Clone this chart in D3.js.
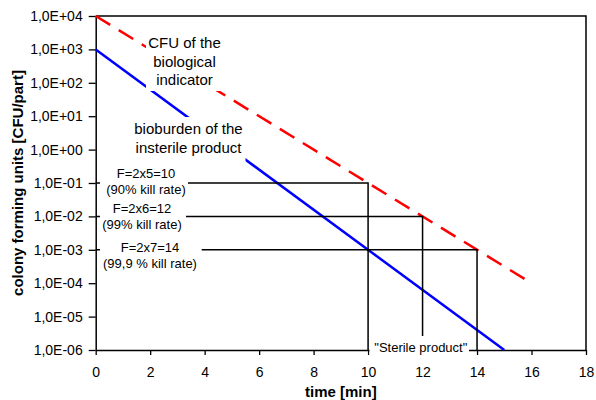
<!DOCTYPE html>
<html lang="en">
<head>
  <meta charset="UTF-8">
  <title>Kill curve</title>
  <style>
    html, body { margin: 0; background: #fff; }
    svg { display: block; font-family: 'Liberation Sans', Arial, sans-serif; }
  </style>
  <script src="https://cdn.jsdelivr.net/npm/d3@7"></script>
</head>
<body>
  <script>
    // canvas
    const width = 596
    const height = 400
    const margin = { left: 95.7, right: 10, top: 16, bottom: 50 }

    // data
    const xTicks = [0, 2, 4, 6, 8, 10, 12, 14, 16, 18]
    const yExps = [-6, -5, -4, -3, -2, -1, 0, 1, 2, 3, 4]
    const indicatorTime = [0, 16]
    const indicatorCFU = [1e4, 1e-4]
    const productTime = [0, 15]
    const productCFU = [1e3, 1e-6]
    const killTimes = [10, 12, 14]
    const killLevels = [1e-1, 1e-2, 1e-3]
    const killLabels = [
      ['F=2x5=10', '(90% kill rate)'],
      ['F=2x6=12', '(99% kill rate)'],
      ['F=2x7=14', '(99,9 % kill rate)']
    ]

    const svg = d3.select('body').append('svg')
      .attr('width', width)
      .attr('height', height)

    const x = d3.scaleLinear()
      .domain([0, 18])
      .range([margin.left, width - margin.right])
    const y = d3.scaleLog()
      .domain([1e-6, 1e4])
      .range([height - margin.bottom, margin.top])

    const fmt = v => {
      const e = Math.round(Math.log10(v))
      return '1,0E' + (e < 0 ? '-' : '+') + String(Math.abs(e)).padStart(2, '0')
    }

    // frame (top + right)
    svg.append('path')
      .attr('d', `M${x(0)},${y(1e4)}H${x(18)}V${y(1e-6)}`)
      .attr('fill', 'none')
      .attr('stroke', '#000')
      .attr('stroke-width', 1.5)

    // axes
    const gx = svg.append('g')
      .attr('transform', `translate(0, ${y(1e-6)})`)
      .call(d3.axisBottom(x).tickValues(xTicks).tickSizeInner(5).tickSizeOuter(0).tickPadding(12))
    const gy = svg.append('g')
      .attr('transform', `translate(${x(0)}, 0)`)
      .call(d3.axisLeft(y).tickValues(yExps.map(e => Math.pow(10, e))).tickFormat(fmt)
        .tickSizeInner(7).tickSizeOuter(0).tickPadding(6))
    ;[gx, gy].forEach(g => {
      g.select('.domain').attr('stroke-width', 1.5)
      g.selectAll('.tick line').attr('stroke-width', 1.3)
      g.selectAll('text').attr('font-size', 14).attr('font-family', "'Liberation Sans', Arial, sans-serif").attr('fill', '#000')
    })

    // axis titles
    svg.append('text')
      .attr('x', (x(0) + x(18)) / 2)
      .attr('y', 397)
      .attr('text-anchor', 'middle')
      .attr('font-weight', 'bold')
      .attr('font-size', 15)
      .text('time [min]')
    svg.append('text')
      .attr('transform', `translate(23, ${(y(1e4) + y(1e-6)) / 2}) rotate(-90)`)
      .attr('text-anchor', 'middle')
      .attr('font-weight', 'bold')
      .attr('font-size', 15)
      .text('colony forming units [CFU/part]')

    // kill curves
    const line = d3.line().x(d => x(d[0])).y(d => y(d[1]))
    svg.append('path')
      .datum(productTime.map((t, i) => [t, productCFU[i]]))
      .attr('d', line)
      .attr('fill', 'none')
      .attr('stroke', '#0000ff')
      .attr('stroke-width', 2.5)
    svg.append('path')
      .datum(indicatorTime.map((t, i) => [t, indicatorCFU[i]]))
      .attr('d', line)
      .attr('fill', 'none')
      .attr('stroke', '#ff0000')
      .attr('stroke-width', 2.5)
      .attr('stroke-dasharray', '17,10')

    // F-value guide lines
    killTimes.forEach((t, i) => {
      svg.append('path')
        .attr('d', `M${x(0)},${y(killLevels[i])}H${x(t)}V${y(1e-6)}`)
        .attr('fill', 'none')
        .attr('stroke', '#000')
        .attr('stroke-width', 1.5)
    })

    // text boxes with white background
    function box(x0, y0, x1, y1, cx, lines, size, lead, firstY) {
      svg.append('rect')
        .attr('x', x0).attr('y', y0)
        .attr('width', x1 - x0).attr('height', y1 - y0)
        .attr('fill', '#fff')
      const t = svg.append('text')
        .attr('text-anchor', 'middle')
        .attr('font-size', size)
        .attr('fill', '#000')
      lines.forEach((s, i) => {
        t.append('tspan').attr('x', cx).attr('y', firstY + i * lead).text(s)
      })
    }

    box(146, 30, 224, 91, 184.5, ['CFU of the', 'biological', 'indicator'], 15, 18.5, 48)
    box(130, 117, 245.5, 163, 188.5, ['bioburden of the', 'insterile product'], 15, 18.7, 134)

    const killBoxes = [
      { x1: 188, y0: 164, cx: 146, top: 178 },
      { x1: 186, y0: 200, cx: 142, top: 213 },
      { x1: 201.7, y0: 237, cx: 150, top: 251.5 }
    ]
    killBoxes.forEach((b, i) => {
      box(100, b.y0, b.x1, b.y0 + 34, b.cx, killLabels[i], 13, 16, b.top)
    })

    box(369.5, 336, 469, 358, 420.8, ['"Sterile product"'], 13, 0, 352)
  </script>
</body>
</html>
